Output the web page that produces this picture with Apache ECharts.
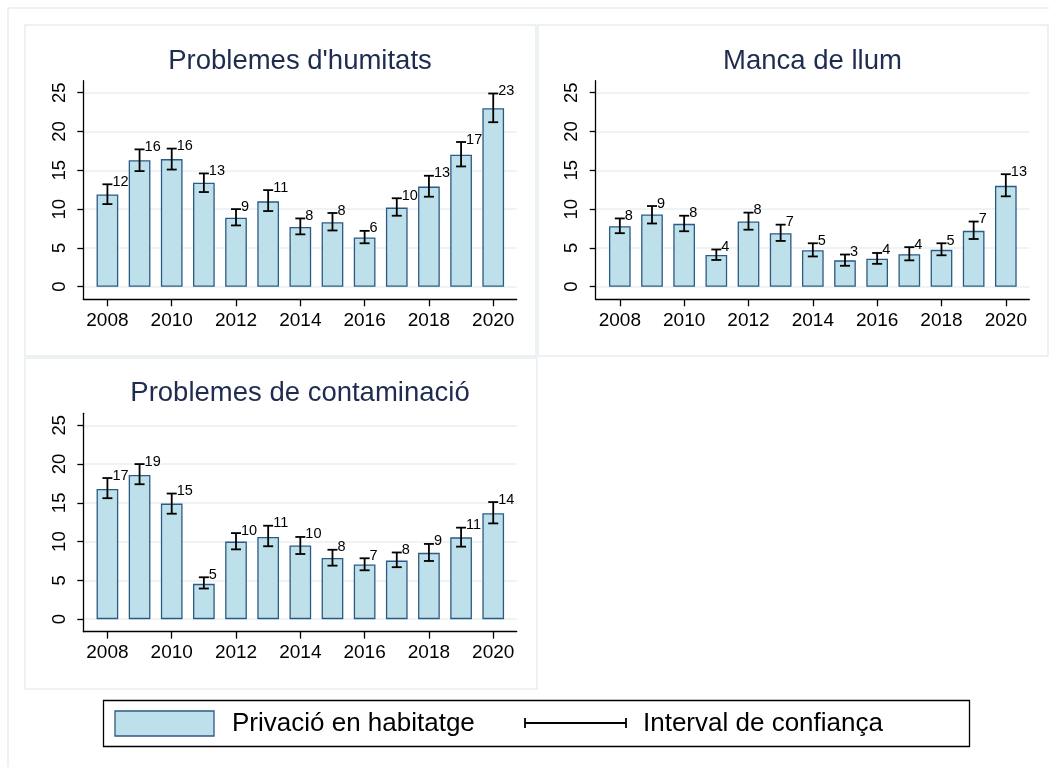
<!DOCTYPE html>
<html>
<head>
<meta charset="utf-8">
<script src="https://cdn.jsdelivr.net/npm/echarts@6/dist/echarts.min.js"></script>
<style>
  html, body { margin: 0; padding: 0; background: #fff; }
  #chart { width: 1049px; height: 767px; }
</style>
</head>
<body>
<div id="chart"></div>
<script>
// Years on the horizontal axis and the labelled ticks
const years = [2008, 2009, 2010, 2011, 2012, 2013, 2014, 2015, 2016, 2017, 2018, 2019, 2020];
const xTickYears = [2008, 2010, 2012, 2014, 2016, 2018, 2020];
const yTicks = [0, 5, 10, 15, 20, 25];

// Panel titles
const titles = ["Problemes d'humitats", "Manca de llum", "Problemes de contaminació"];

// Problemes d'humitats (%), with confidence interval bounds
const humValues = [11.9, 16.3, 16.45, 13.4, 8.9, 11.0, 7.7, 8.3, 6.35, 10.2, 12.9, 17.0, 23.0];
const humLow    = [10.65, 14.9, 15.1, 12.2, 7.9, 9.75, 6.75, 7.25, 5.6, 9.15, 11.6, 15.5, 21.2];
const humHigh   = [13.2, 17.7, 17.8, 14.6, 10.0, 12.45, 8.8, 9.5, 7.2, 11.4, 14.3, 18.65, 24.9];

// Manca de llum (%)
const llumValues = [7.8, 9.3, 8.1, 4.1, 8.4, 6.9, 4.7, 3.4, 3.6, 4.2, 4.75, 7.2, 13.0];
const llumLow    = [6.9, 8.15, 7.15, 3.45, 7.35, 5.9, 3.9, 2.7, 2.95, 3.4, 4.05, 6.15, 11.65];
const llumHigh   = [8.8, 10.4, 9.15, 4.8, 9.55, 8.0, 5.6, 4.15, 4.35, 5.1, 5.6, 8.4, 14.5];

// Problemes de contaminació (%)
const contValues = [16.8, 18.6, 14.9, 4.55, 10.0, 10.6, 9.5, 7.9, 7.05, 7.55, 8.55, 10.55, 13.65];
const contLow    = [15.6, 17.4, 13.6, 3.95, 9.0, 9.4, 8.4, 6.9, 6.3, 6.7, 7.5, 9.35, 12.35];
const contHigh   = [18.2, 20.0, 16.2, 5.4, 11.1, 12.05, 10.6, 8.95, 7.85, 8.6, 9.7, 11.8, 15.1];

// Legend entries
const legendBarText = "Privació en habitatge";
const legendCiText = "Interval de confiança";

const BAR_FILL = '#bee0ea';
const BAR_EDGE = '#2b5a85';
const FRAME = '#e6eef1';
const TITLE_COLOR = '#1e2c50';
const FONT = '"Liberation Sans", Arial, sans-serif';

const panels = [
  { values: humValues, low: humLow, high: humHigh, grid: { left: 83.3, top: 80.7, width: 433.4, height: 218.6 } },
  { values: llumValues, low: llumLow, high: llumHigh, grid: { left: 595.7, top: 80.7, width: 433.6, height: 218.6 } },
  { values: contValues, low: contLow, high: contHigh, grid: { left: 83.3, top: 413.3, width: 433.4, height: 218.4 } }
];

const grids = [], xAxes = [], yAxes = [], series = [];

panels.forEach((p, i) => {
  grids.push(Object.assign({ containLabel: false }, p.grid));
  xAxes.push({
    type: 'value', gridIndex: i, min: 2007.25, max: 2020.73,
    axisLine: { show: true, onZero: false, lineStyle: { color: '#000', width: 1.3 } },
    axisTick: { show: true, length: 7, customValues: xTickYears, lineStyle: { color: '#000', width: 1.3 } },
    axisLabel: { customValues: xTickYears, formatter: v => String(v), color: '#000', fontSize: 19, fontFamily: FONT, margin: 12 },
    splitLine: { show: false }
  });
  yAxes.push({
    type: 'value', gridIndex: i, min: -1.62, max: 26.55,
    axisLine: { show: true, onZero: false, lineStyle: { color: '#000', width: 1.3 } },
    axisTick: { show: true, length: 6, customValues: yTicks, lineStyle: { color: '#000', width: 1.3 } },
    axisLabel: { customValues: yTicks, rotate: 90, color: '#000', fontSize: 18.5, fontFamily: FONT, margin: 14 },
    splitLine: { show: true, lineStyle: { color: '#e8f0f2', width: 1.5 } }
  });

  series.push({
    type: 'bar', xAxisIndex: i, yAxisIndex: i, barWidth: 21.7, z: 2,
    data: years.map((y, k) => [y, p.values[k]]),
    itemStyle: { color: BAR_FILL, borderColor: BAR_EDGE, borderWidth: 1.3 },
    silent: true
  });

  // Confidence interval whiskers with the rounded value written beside the upper cap
  series.push({
    type: 'custom', xAxisIndex: i, yAxisIndex: i, z: 5,
    data: years.map((y, k) => [y, p.low[k], p.high[k], p.values[k]]),
    encode: { x: 0, y: [1, 2] },
    silent: true,
    renderItem: function (params, api) {
      const x = api.value(0);
      const pHi = api.coord([x, api.value(2)]);
      const pLo = api.coord([x, api.value(1)]);
      const hw = 5;
      const st = { stroke: '#000', lineWidth: 1.8 };
      return {
        type: 'group',
        children: [
          { type: 'line', shape: { x1: pHi[0], y1: pHi[1], x2: pLo[0], y2: pLo[1] }, style: st },
          { type: 'line', shape: { x1: pHi[0] - hw, y1: pHi[1], x2: pHi[0] + hw, y2: pHi[1] }, style: st },
          { type: 'line', shape: { x1: pLo[0] - hw, y1: pLo[1], x2: pLo[0] + hw, y2: pLo[1] }, style: st },
          {
            type: 'text', x: pHi[0] + 5, y: pHi[1] - 2.5,
            style: {
              text: String(Math.round(api.value(3))), fill: '#000',
              font: '14.5px ' + FONT, textAlign: 'left', textVerticalAlign: 'middle'
            }
          }
        ]
      };
    }
  });
});

// Panel frames, titles and the shared legend
const graphics = [
  { type: 'rect', shape: { x: 8, y: 8, width: 1100, height: 800 }, style: { fill: 'none', stroke: FRAME, lineWidth: 1.5 }, silent: true },
  { type: 'rect', shape: { x: 25, y: 25, width: 511, height: 331 }, style: { fill: 'none', stroke: FRAME, lineWidth: 1.5 }, silent: true },
  { type: 'rect', shape: { x: 538, y: 25, width: 510, height: 331 }, style: { fill: 'none', stroke: FRAME, lineWidth: 1.5 }, silent: true },
  { type: 'rect', shape: { x: 25, y: 358, width: 512, height: 331 }, style: { fill: 'none', stroke: FRAME, lineWidth: 1.5 }, silent: true }
];

const titlePos = [[300, 61], [812.5, 61], [300, 393.4]];
titles.forEach((t, i) => {
  graphics.push({
    type: 'text', x: titlePos[i][0], y: titlePos[i][1], silent: true,
    style: { text: t, fill: TITLE_COLOR, font: '27.5px ' + FONT, textAlign: 'center', textVerticalAlign: 'middle' }
  });
});

const legendFont = '26px ' + FONT;
graphics.push(
  { type: 'rect', shape: { x: 103.5, y: 700.5, width: 866, height: 46 }, style: { fill: '#fff', stroke: '#000', lineWidth: 1.3 }, silent: true },
  { type: 'rect', shape: { x: 115, y: 711, width: 99, height: 25 }, style: { fill: BAR_FILL, stroke: BAR_EDGE, lineWidth: 1.3 }, silent: true },
  { type: 'text', x: 232, y: 723.5, silent: true, style: { text: legendBarText, fill: '#000', font: legendFont, textAlign: 'left', textVerticalAlign: 'middle' } },
  { type: 'line', shape: { x1: 525, y1: 723, x2: 626, y2: 723 }, style: { stroke: '#000', lineWidth: 1.8 }, silent: true },
  { type: 'line', shape: { x1: 525, y1: 718, x2: 525, y2: 728 }, style: { stroke: '#000', lineWidth: 1.8 }, silent: true },
  { type: 'line', shape: { x1: 626, y1: 718, x2: 626, y2: 728 }, style: { stroke: '#000', lineWidth: 1.8 }, silent: true },
  { type: 'text', x: 643, y: 723.5, silent: true, style: { text: legendCiText, fill: '#000', font: legendFont, textAlign: 'left', textVerticalAlign: 'middle' } }
);

const chart = echarts.init(document.getElementById('chart'), null, { renderer: 'canvas' });
chart.setOption({
  animation: false,
  backgroundColor: '#fff',
  grid: grids,
  xAxis: xAxes,
  yAxis: yAxes,
  series: series,
  graphic: graphics
});
</script>
</body>
</html>
